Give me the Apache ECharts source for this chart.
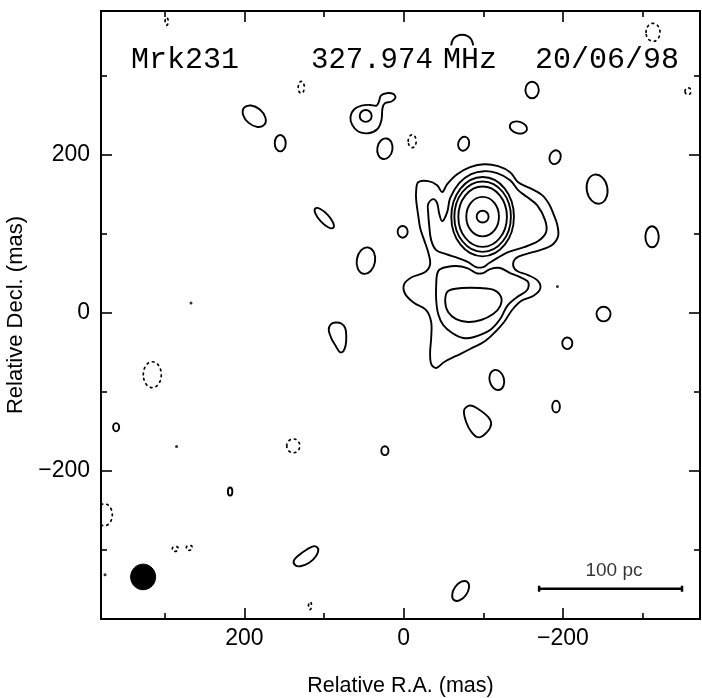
<!DOCTYPE html>
<html><head><meta charset="utf-8">
<script src="https://cdn.jsdelivr.net/npm/echarts@6/dist/echarts.min.js"></script>
<style>html,body{margin:0;padding:0;background:#fff}#c{width:702px;height:698px}</style>
</head><body><div id="c"></div>
<script>
// ---------------- data (mas) ----------------
const titleTexts = ['Mrk231', '327.974', 'MHz', '20/06/98'];
const majorTicks = [-200, 0, 200];
const minorTicks = [-300, -100, 100, 300];
const xRange = [-372, 380];
const yRange = [-387, 382];
const xName = 'Relative R.A. (mas)';
const yName = 'Relative Decl. (mas)';

// irregular positive contours: vertices [RA, Dec]
const outerContour = [[-18.2,165.5],[-30.7,166.8],[-42.0,161.7],[-48.3,152.9],[-54.6,163.0],[-67.1,175.6],[-83.4,184.5],[-101.0,188.2],[-118.6,185.7],[-133.6,178.1],[-143.7,165.5],[-158.7,157.9],[-173.8,149.1],[-182.6,137.7],[-187.6,126.3],[-192.6,112.4],[-193.9,97.3],[-186.3,85.9],[-171.3,79.6],[-153.7,74.5],[-141.2,69.5],[-137.4,60.6],[-142.4,53.1],[-156.2,48.0],[-168.8,40.4],[-171.3,30.3],[-162.5,21.5],[-147.4,15.2],[-136.1,3.8],[-126.1,-11.4],[-116.1,-22.7],[-102.3,-35.4],[-83.4,-45.5],[-65.9,-54.3],[-50.8,-61.9],[-40.8,-69.5],[-34.5,-64.4],[-33.2,-49.3],[-34.5,-31.6],[-34.5,-11.4],[-28.2,3.8],[-13.2,12.6],[-1.9,24.0],[-0.6,36.6],[-10.7,45.5],[-27.0,51.8],[-33.2,61.9],[-30.7,77.1],[-25.7,92.2],[-20.7,107.4],[-18.2,123.8],[-15.7,142.8],[-15.7,155.4]];
const upperContour2 = [[-30.7,137.7],[-37.0,144.0],[-42.0,139.0],[-44.5,126.3],[-48.3,116.2],[-54.6,127.6],[-58.3,145.3],[-69.6,164.2],[-84.7,175.6],[-101.0,179.4],[-117.3,176.9],[-133.6,168.0],[-143.7,155.4],[-155.0,146.6],[-167.5,136.4],[-177.5,117.5],[-178.8,102.3],[-168.8,91.0],[-151.2,83.4],[-131.1,77.1],[-117.3,69.5],[-107.3,63.2],[-99.7,58.1],[-91.0,58.1],[-80.9,64.4],[-68.4,69.5],[-53.3,74.5],[-40.8,79.6],[-34.5,92.2],[-32.0,111.2],[-30.7,127.6]];
const lowerContour2 = [[-45.8,55.6],[-64.6,59.4],[-79.7,56.9],[-91.0,50.5],[-99.7,50.5],[-108.5,55.6],[-121.1,56.9],[-133.6,50.5],[-146.2,45.5],[-156.2,39.2],[-155.0,29.1],[-142.4,20.2],[-129.9,8.8],[-121.1,-7.6],[-108.5,-21.5],[-88.5,-30.3],[-74.7,-31.6],[-60.9,-25.3],[-49.6,-15.2],[-43.3,-1.3],[-40.8,16.4],[-40.8,35.4],[-42.0,49.3]];
const lowerContour3 = [[-55.8,27.8],[-73.4,31.6],[-96.0,31.6],[-113.5,29.1],[-122.3,20.2],[-121.1,8.8],[-112.3,-1.3],[-97.2,-8.8],[-80.9,-11.4],[-65.9,-7.6],[-55.8,1.3],[-52.1,15.2]];
const loopContour = [[28.6,275.0],[21.6,278.0],[13.2,277.1],[10.3,272.5],[15.3,267.5],[23.6,265.3],[26.6,259.0],[27.9,244.2],[32.9,232.8],[44.5,227.4],[57.1,229.6],[64.6,237.9],[66.8,248.5],[62.1,257.7],[52.9,262.4],[42.4,263.2],[34.1,262.4],[31.1,267.5]];
const teardrop = [[85.9,-12.0],[78.4,-13.3],[73.4,-19.0],[72.1,-29.1],[72.8,-40.4],[75.9,-48.6],[80.3,-49.3],[85.3,-41.7],[91.0,-31.6],[94.1,-21.5],[91.6,-14.5]];
const banana = [[138.0,-313.3],[132.4,-307.0],[121.1,-298.8],[112.3,-294.8],[107.3,-298.2],[109.8,-307.0],[118.6,-315.9],[129.9,-320.3],[136.1,-319.0]];
const triangleBlob = [[-75.9,-122.5],[-83.4,-116.9],[-93.5,-121.3],[-106.0,-131.4],[-109.8,-140.3],[-104.8,-150.4],[-94.7,-157.3],[-85.9,-151.6],[-78.4,-137.8]];
const arcAboveTitle = [[-59.6,338.6],[-62.1,346.2],[-67.1,350.6],[-73.4,351.9],[-79.7,350.6],[-84.7,346.2],[-87.2,338.6]];

// elliptical positive contours: [RA, Dec, semiRA, semiDec, tiltDeg]
const coreRings = [
  [-99.1,121.9,7.5,7.5,0],
  [-99.1,121.9,20.5,25.0,0],
  [-99.1,121.9,30.5,38.2,0],
  [-99.1,121.9,35.5,44.5,0],
  [-99.1,121.9,39.3,50.2,0]
];
const positiveBlobs = [
  [47.7,249.3,7.5,7.5,0],
  [187.6,248.9,16.6,11.0,-40],
  [155.0,214.8,6.9,10.4,0],
  [23.6,207.8,9.5,13.2,-10],
  [99.7,120.0,16.6,6.0,-47],
  [1.3,102.7,6.3,7.4,0],
  [47.4,66.3,11.5,16.9,-10],
  [-161.2,282.1,8.4,10.4,0],
  [-144.0,234.6,11.1,7.4,-15],
  [-75.3,214.1,6.8,8.9,-15],
  [-190.1,197.1,6.9,8.9,-20],
  [-242.8,156.7,13.0,18.6,10],
  [-311.8,96.4,8.4,13.3,0],
  [-250.9,-1.3,8.8,9.3,0],
  [-205.4,-38.3,6.3,7.4,0],
  [-116.9,-84.6,9.0,12.9,15],
  [-191.3,-118.4,4.8,7.4,0],
  [-71.5,-351.5,14.1,8.5,55],
  [361.0,-144.4,3.8,5.1,0],
  [23.6,-174.1,4.5,5.6,0],
  [217.9,-225.8,2.8,5.1,0]
];
// negative (dotted) contours: [RA, Dec, semiRA, semiDec, tiltDeg]
const negativeBlobs = [
  [128.6,285.5,3.8,7.6,0],
  [297.6,368.9,1.9,5.0,0],
  [-313.0,355.0,8.8,11.4,0],
  [-357.0,280.5,3.8,4.4,0],
  [-10.7,217.3,5.0,8.2,0],
  [315.6,-78.0,11.3,16.4,0],
  [138.6,-168.0,8.2,8.8,0],
  [375.8,-255.2,10.0,13.9,0],
  [286.7,-298.2,3.8,3.2,0],
  [269.1,-296.9,3.8,3.2,0],
  [117.6,-370.2,1.9,5.0,0]
];
const tinySpots = [[267.0,12.6],[285.1,-168.9],[-193.0,33.7],[374.9,-331.0]];
const beam = [[327.1,-333.8,15.7,16.2,0]];
const scaleBar = [[-170.0,-348.7],[-349.4,-348.7]];
const scaleBarLabel = '100 pc';
const scaleBarLabelPos = [[-264.0,-326.0]];

// ---------------- chart ----------------
const solidContours = [outerContour, upperContour2, lowerContour2, lowerContour3, loopContour, teardrop, banana, triangleBlob];
const fmt = v => (v < 0 ? '\u2212' + (-v) : String(v));
const axisFont = 'Liberation Sans';
const titleLayout = [{ x: 131, s: 30 }, { x: 311, s: 29 }, { x: 443, s: 30 }, { x: 535, s: 30 }];

function xAx(pos, ticks, len, main) {
  return {
    type: 'value', position: pos, inverse: true, min: xRange[0], max: xRange[1],
    axisLine: { show: true, onZero: false, lineStyle: { color: '#000', width: 2 } },
    axisTick: { show: true, inside: true, length: len, customValues: ticks, lineStyle: { color: '#000', width: 1.6 } },
    axisLabel: main ? { show: true, customValues: ticks, formatter: fmt, color: '#000', fontSize: 23, fontFamily: axisFont, margin: 8 } : { show: false },
    splitLine: { show: false },
    name: main ? xName : '', nameLocation: 'middle', nameGap: 56,
    nameTextStyle: { color: '#000', fontSize: 21.5, fontFamily: axisFont }
  };
}
function yAx(pos, ticks, len, main) {
  return {
    type: 'value', position: pos, min: yRange[0], max: yRange[1],
    axisLine: { show: true, onZero: false, lineStyle: { color: '#000', width: 2 } },
    axisTick: { show: true, inside: true, length: len, customValues: ticks, lineStyle: { color: '#000', width: 1.6 } },
    axisLabel: main ? { show: true, customValues: ticks, formatter: fmt, color: '#000', fontSize: 23, fontFamily: axisFont, margin: 11 } : { show: false },
    splitLine: { show: false },
    name: main ? yName : '', nameLocation: 'middle', nameGap: 63, nameRotate: 90,
    nameTextStyle: { color: '#000', fontSize: 22, fontFamily: axisFont }
  };
}

function ellipseRender(style) {
  return function (params, api) {
    const cx = api.value(0), cy = api.value(1);
    const c = api.coord([cx, cy]);
    const s = api.size([api.value(2), api.value(3)], [cx, cy]);
    return {
      type: 'ellipse', x: c[0], y: c[1], rotation: api.value(4) * Math.PI / 180,
      shape: { cx: 0, cy: 0, rx: s[0], ry: s[1] },
      style: Object.assign({}, style)
    };
  };
}
const solidStyle = { fill: 'none', stroke: '#000', lineWidth: 1.9 };
const dottedStyle = { fill: 'none', stroke: '#000', lineWidth: 1.7, lineDash: [1.6, 4.2], lineCap: 'round' };

const chart = echarts.init(document.getElementById('c'), null, { renderer: 'canvas' });
chart.setOption({
  backgroundColor: '#fff',
  animation: false,
  grid: { left: 101, right: 2, top: 11, bottom: 79, containLabel: false, outerBoundsMode: 'none' },
  xAxis: [xAx('bottom', majorTicks, 11, true), xAx('bottom', minorTicks, 6, false), xAx('top', majorTicks, 11, false), xAx('top', minorTicks, 6, false)],
  yAxis: [yAx('left', majorTicks, 11, true), yAx('left', minorTicks, 6, false), yAx('right', majorTicks, 11, false), yAx('right', minorTicks, 6, false)],
  graphic: titleTexts.map((t, i) => ({
    type: 'text', x: titleLayout[i].x, y: 60,
    style: { text: t, font: titleLayout[i].s + 'px "Liberation Mono"', fill: '#000', align: 'left', verticalAlign: 'middle' }
  })),
  series: [
    {
      type: 'custom', coordinateSystem: 'cartesian2d', clip: true,
      data: solidContours.map((pts, i) => [pts[0][0], pts[0][1], i]),
      encode: { x: 0, y: 1 },
      renderItem: function (params, api) {
        const pts = solidContours[api.value(2)].map(p => api.coord(p));
        return { type: 'polygon', shape: { points: pts, smooth: 0.35 }, style: Object.assign({}, solidStyle) };
      }
    },
    { type: 'custom', coordinateSystem: 'cartesian2d', clip: true, data: coreRings.concat(positiveBlobs), encode: { x: 0, y: 1 }, renderItem: ellipseRender(solidStyle) },
    { type: 'custom', coordinateSystem: 'cartesian2d', clip: true, data: negativeBlobs, encode: { x: 0, y: 1 }, renderItem: ellipseRender(dottedStyle) },
    { type: 'custom', coordinateSystem: 'cartesian2d', clip: true, data: beam, encode: { x: 0, y: 1 }, renderItem: ellipseRender({ fill: '#000', stroke: '#000', lineWidth: 1 }) },
    { type: 'line', data: arcAboveTitle, smooth: true, symbol: 'none', lineStyle: { color: '#000', width: 1.9 } },
    { type: 'scatter', data: tinySpots, symbol: 'circle', symbolSize: 3, itemStyle: { color: '#000' } },
    { type: 'line', data: scaleBar, symbol: 'rect', symbolSize: [2.5, 6], itemStyle: { color: '#000' }, lineStyle: { color: '#000', width: 2.5 } },
    {
      type: 'scatter', data: scaleBarLabelPos, symbolSize: 0,
      label: { show: true, position: 'inside', formatter: scaleBarLabel, color: '#000', fontSize: 19, fontFamily: axisFont }
    }
  ]
});
</script></body></html>
